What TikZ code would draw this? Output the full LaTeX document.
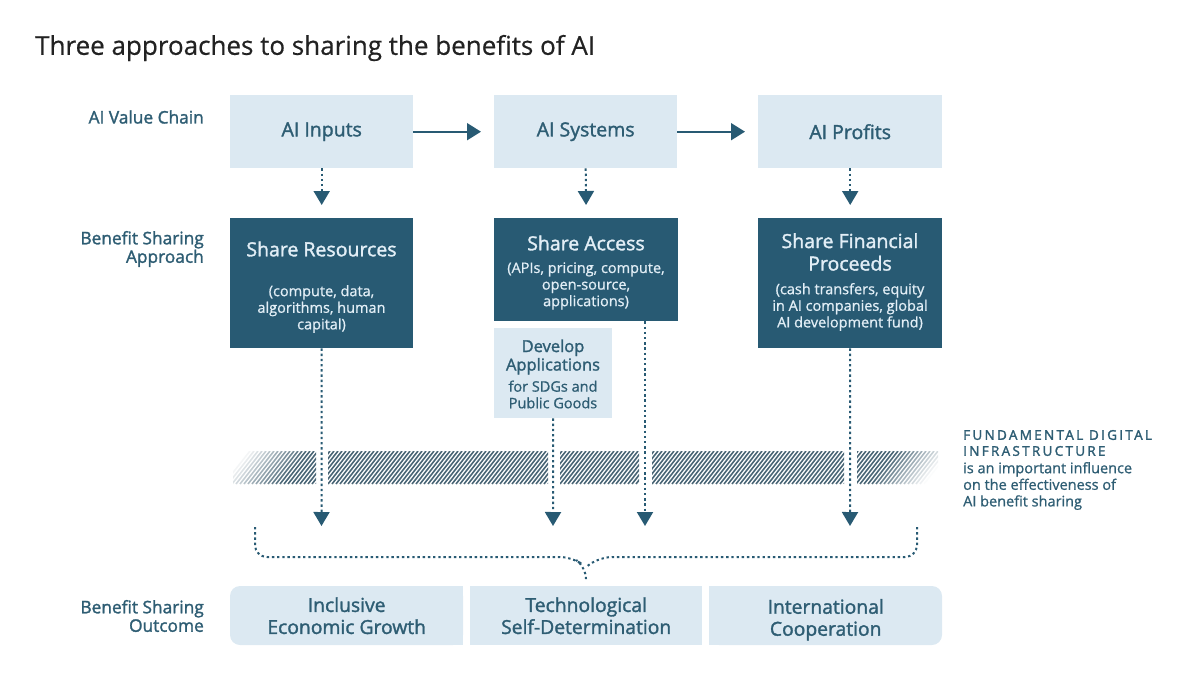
\documentclass[tikz,border=0pt]{standalone}
\usepackage{fontspec}
\setmainfont{Open Sans}[FakeBold=1.6]
\newfontfamily\regfont{Open Sans}[FakeBold=0.9]
\newfontfamily\titlefont{Open Sans}[FakeBold=0.5]
\newfontfamily\spacedfont{Open Sans}[LetterSpace=17,FakeBold=2]
\usetikzlibrary{arrows.meta}
\definecolor{dk}{HTML}{285A73}
\definecolor{lt}{HTML}{DCE9F2}
\definecolor{tx}{HTML}{2E5D73}
\definecolor{lttx}{HTML}{E2EEF6}
\definecolor{ttl}{HTML}{222222}
\definecolor{hatch}{HTML}{4A6676}
\begin{document}
\begin{tikzpicture}[x=1pt,y=-1pt,
  lightbox/.style={fill=lt, draw=none, inner sep=0pt, anchor=north west, text=tx, align=center},
  darkbox/.style={fill=dk, draw=none, inner sep=0pt, anchor=north west},
  boxtitle/.style={font=\fontsize{19.5}{22.5}\selectfont, align=center, inner sep=0pt},
  boxsub/.style={font=\regfont\fontsize{14.5}{16.6}\selectfont, align=center, inner sep=0pt},
  rowlabel/.style={font=\fontsize{17.3}{18.5}\selectfont, text=tx, align=right, anchor=east, inner sep=0pt},
  solidarrow/.style={draw=dk, line width=1.8pt, -{Triangle[width=17pt,length=14pt]}},
  dotline/.style={draw=dk, line width=2pt, dash pattern=on 2.4pt off 2.8pt},
  dotarrow/.style={dotline, -{Triangle[width=16pt,length=14pt]}},
  outbox/.style={inner sep=0pt, minimum height=59pt, anchor=north west, align=center, text=tx, font=\fontsize{19.3}{22}\selectfont},
]
\useasboundingbox (0,0) rectangle (1200,693);

% title
\node[anchor=west, inner sep=0pt, text=ttl, font=\titlefont\fontsize{26}{30}\selectfont] (title) at (35,48) {Three approaches to sharing the benefits of AI};

% row labels
\node[rowlabel] (lab1) at (204,117) {AI Value Chain};
\node[rowlabel] (lab2) at (204,249) {Benefit Sharing\\Approach};
\node[rowlabel] (lab3) at (204,616) {Benefit Sharing\\Outcome};

% top boxes
\node[lightbox, minimum width=183pt, minimum height=73pt, font=\fontsize{19.5}{22}\selectfont] (inp) at (230,95) {AI Inputs};
\node[lightbox, minimum width=183pt, minimum height=73pt, font=\fontsize{19.5}{22}\selectfont] (sys) at (494,95) {AI Systems};
\node[lightbox, minimum width=184pt, minimum height=73pt, font=\fontsize{19.5}{22}\selectfont] (pro) at (758,95) {AI Profits};

\draw[solidarrow] (inp.east) -- ([xshift=-13pt]sys.west);
\draw[solidarrow] (sys.east) -- ([xshift=-13pt]pro.west);

% dark boxes
\node[darkbox, minimum width=183pt, minimum height=130pt] (res) at (230,218) {};
\node[darkbox, minimum width=184pt, minimum height=103pt] (acc) at (494,218) {};
\node[darkbox, minimum width=184pt, minimum height=130pt] (fin) at (758,218) {};

\node[boxtitle, text=lttx] (resT) at (321.5,249) {Share Resources};
\node[boxsub, text=lttx] (resS) at (321.5,309) {(compute, data,\\algorithms, human\\capital)};
\node[boxtitle, text=lttx] (accT) at (586,243) {Share Access};
\node[boxsub, text=lttx] (accS) at (586,286) {(APIs, pricing, compute,\\open-source,\\applications)};
\node[boxtitle, text=lttx] (finT) at (850,252) {Share Financial\\Proceeds};
\node[boxsub, text=lttx] (finS) at (850,307) {(cash transfers, equity\\in AI companies, global\\AI development fund)};

\draw[dotarrow, shorten >=13pt] (inp.south) -- (res.north);
\draw[dotarrow, shorten >=13pt] (sys.south) -- (acc.north);
\draw[dotarrow, shorten >=13pt] (pro.south) -- (fin.north);

% develop applications
\node[lightbox, minimum width=118pt, minimum height=90pt] (dev) at (494,328) {};
\node[inner sep=0pt, align=center, text=tx, font=\fontsize{16.5}{18.5}\selectfont] (devT) at (553,357) {Develop\\Applications};
\node[boxsub, text=tx] (devS) at (553,394.5) {for SDGs and\\Public Goods};

% hatched band
\foreach \a/\b in {233/316, 328/548, 560/639, 652/844, 857/938} {
  \begin{scope}
    \clip (\a,451) rectangle (\b,484);
    \foreach \x in {200,204,...,944} {
      \pgfmathsetmacro\op{max(0,min(1,min((\x+13-233)/62,(938-\x-13)/55)))}
      \draw[hatch, line width=1.6pt, opacity=\op] (\x,484) -- (\x+26,451);
    }
  \end{scope}
}

% right side text
\node[anchor=west, inner sep=0pt, align=left, text=tx, font=\spacedfont\fontsize{13.5}{16}\selectfont] (fdi) at (963,443) {FUNDAMENTAL DIGITAL\\INFRASTRUCTURE};
\node[anchor=west, inner sep=0pt, align=left, text=tx, font=\regfont\fontsize{14.5}{16.6}\selectfont] (fdiS) at (963,486) {is an important influence\\on the effectiveness of\\AI benefit sharing};

% lower dotted arrows
\coordinate (e1) at (321.5,526);
\coordinate (e2) at (553,526);
\coordinate (e3) at (645,526);
\coordinate (e4) at (850,526);
\draw[dotarrow] (res.south) -- (e1);
\draw[dotarrow] (dev.south) -- (e2);
\draw[dotarrow] (acc.south -| e3) -- (e3);
\draw[dotarrow] (fin.south) -- (e4);

% brace
\coordinate (bl) at (255,527);
\coordinate (br) at (917,527);
\coordinate (bc) at (586,578);
\draw[dotline, rounded corners=12pt] (bl) -- (255,557) -- (572,557) -- (586,567) -- (bc);
\draw[dotline, rounded corners=12pt] (br) -- (917,557) -- (600,557) -- (586,567);

% outcome boxes
\fill[lt, rounded corners=10pt] (230,586) rectangle (463,645);
\fill[lt] (420,586) rectangle (463,645);
\fill[lt] (470,586) rectangle (702,645);
\fill[lt, rounded corners=10pt] (709,586) rectangle (942,645);
\fill[lt] (709,586) rectangle (750,645);
\node[outbox, minimum width=233pt] (o1) at (230,586) {Inclusive\\Economic Growth};
\node[outbox, minimum width=232pt] (o2) at (470,586) {Technological\\Self-Determination};
\node[outbox, minimum width=233pt] (o3) at (709,590) {International\\Cooperation};
\end{tikzpicture}
\end{document}
